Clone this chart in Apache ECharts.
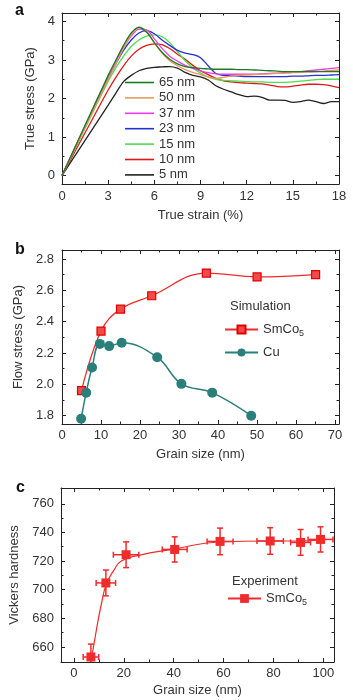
<!DOCTYPE html>
<html>
<head>
<meta charset="utf-8">
<script src="https://cdn.jsdelivr.net/npm/echarts@6/dist/echarts.min.js"></script>
<style>
  html, body { margin: 0; padding: 0; background: #fff; }
  #chart { width: 353px; height: 700px; }
</style>
</head>
<body>
<div id="chart"></div>
<script>
// ---- panel a: stress-strain curves ----
const aStrain = [0, 1, 2, 3, 3.5, 4, 4.5, 5, 5.5, 6, 6.5, 7, 7.5, 8, 8.5, 9, 9.5, 10, 10.5, 11, 11.5, 12, 12.5, 13, 13.5, 14, 14.5, 15, 15.5, 16, 16.5, 17, 17.5, 18];
const aNames = ["65 nm", "50 nm", "37 nm", "23 nm", "15 nm", "10 nm", "5 nm"];
const aColors = ["#1c7a22", "#e89a5c", "#e83ee8", "#2233d6", "#4fdc4f", "#e01818", "#222222"];
const a65 = [0, 0.87, 1.74, 2.6, 3.0, 3.38, 3.7, 3.85, 3.72, 3.45, 3.2, 3.02, 2.9, 2.83, 2.8, 2.78, 2.77, 2.76, 2.76, 2.76, 2.75, 2.75, 2.74, 2.73, 2.72, 2.71, 2.7, 2.7, 2.7, 2.7, 2.7, 2.7, 2.7, 2.7];
const a50 = [0, 0.83, 1.66, 2.5, 2.9, 3.3, 3.65, 3.84, 3.75, 3.45, 3.18, 2.98, 2.85, 2.75, 2.68, 2.62, 2.56, 2.52, 2.55, 2.58, 2.6, 2.61, 2.62, 2.63, 2.64, 2.65, 2.66, 2.67, 2.68, 2.69, 2.7, 2.71, 2.73, 2.74];
const a37 = [0, 0.86, 1.72, 2.56, 2.95, 3.33, 3.62, 3.8, 3.78, 3.55, 3.3, 3.1, 2.97, 2.86, 2.78, 2.72, 2.67, 2.64, 2.63, 2.63, 2.63, 2.63, 2.63, 2.64, 2.65, 2.66, 2.67, 2.68, 2.7, 2.72, 2.74, 2.76, 2.78, 2.8];
const a23 = [0, 0.85, 1.7, 2.52, 2.9, 3.25, 3.52, 3.7, 3.76, 3.68, 3.52, 3.38, 3.25, 3.18, 3.14, 3.06, 2.85, 2.65, 2.6, 2.59, 2.58, 2.57, 2.57, 2.57, 2.57, 2.57, 2.57, 2.58, 2.58, 2.59, 2.6, 2.6, 2.61, 2.62];
const a15 = [0, 0.82, 1.64, 2.44, 2.8, 3.1, 3.35, 3.52, 3.62, 3.65, 3.61, 3.45, 3.22, 2.98, 2.8, 2.66, 2.56, 2.5, 2.47, 2.46, 2.45, 2.44, 2.43, 2.43, 2.42, 2.42, 2.42, 2.43, 2.45, 2.47, 2.49, 2.5, 2.5, 2.5];
const a10 = [0, 0.74, 1.48, 2.22, 2.55, 2.85, 3.1, 3.28, 3.38, 3.42, 3.4, 3.3, 3.15, 3.02, 2.86, 2.72, 2.62, 2.52, 2.46, 2.43, 2.41, 2.4, 2.39, 2.38, 2.35, 2.31, 2.3, 2.32, 2.35, 2.37, 2.37, 2.36, 2.33, 2.28];
const a5 = [0, 0.61, 1.22, 1.83, 2.14, 2.44, 2.6, 2.72, 2.78, 2.81, 2.82, 2.83, 2.79, 2.68, 2.6, 2.56, 2.48, 2.33, 2.24, 2.17, 2.1, 2.05, 2.06, 2.03, 1.96, 1.96, 1.95, 1.9, 1.92, 1.96, 1.92, 1.87, 1.92, 1.92];
const aValues = [a65, a50, a37, a23, a15, a10, a5];
const aXTicks = [0, 3, 6, 9, 12, 15, 18];
const aYTicks = [0, 1, 2, 3, 4];

// ---- panel b: flow stress vs grain size (simulation) ----
const bSmX = [5, 10, 15, 23, 37, 50, 65];
const bSmY = [1.96, 2.34, 2.48, 2.565, 2.71, 2.685, 2.70];
const bCuX = [4.9, 6.2, 7.7, 9.7, 12.1, 15.3, 24.4, 30.6, 38.5, 48.5];
const bCuY = [1.78, 1.947, 2.107, 2.258, 2.244, 2.265, 2.173, 2.003, 1.947, 1.80];
const bXTicks = [0, 10, 20, 30, 40, 50, 60, 70];
const bYTicks = [1.8, 2.0, 2.2, 2.4, 2.6, 2.8];

// ---- panel c: Vickers hardness (experiment) ----
const cX = [6.8, 12.8, 20.9, 40.4, 58.6, 78.7, 90.9, 98.9];
const cY = [653, 704.7, 724.4, 728.1, 733.7, 734.0, 733.0, 735.1];
const cXErr = [3.1, 3.9, 5.1, 5.0, 5.2, 5.3, 4.0, 5.0];
const cYErr = [9, 9, 9, 8.8, 9.3, 9.3, 9, 8.8];
const cFitX = [7, 9, 11, 13, 16, 19, 26, 40, 58, 78, 90, 98];
const cFitY = [651, 672, 690, 704, 713.5, 720, 724, 728.3, 733.3, 734, 734, 734.5];
const cXTicks = [0, 20, 40, 60, 80, 100];
const cYTicks = [660, 680, 700, 720, 740, 760];

const FONT = "Liberation Sans, Arial, sans-serif";
const TXT = "#333";
const AX = "#222";
const RED = "#ef2b2b";
const TEAL = "#2a7f7b";

const zip = (xs, ys) => xs.map((x, i) => [x, ys[i]]);
const mids = t => t.slice(1).map((v, i) => (v + t[i]) / 2);

// one grid gets 4 axes per dimension: main (line, ticks, labels), minor ticks, mirror side, mirror minor
function axes(dim, grid, min, max, majors, fmt, name, nameGap, labelMargin) {
  const minors = mids(majors);
  const side = dim === "x" ? ["bottom", "top"] : ["left", "right"];
  const base = {
    type: "value", gridIndex: grid, min: min, max: max,
    splitLine: { show: false }, axisLabel: { show: false },
    axisTick: { show: false }, axisLine: { show: false, onZero: false }
  };
  const out = [];
  side.forEach((pos, i) => {
    const main = Object.assign({}, base, {
      position: pos,
      axisLine: { show: true, onZero: false, lineStyle: { color: AX, width: 1 } },
      axisTick: { show: true, inside: true, length: 4, customValues: majors, lineStyle: { color: AX } }
    });
    if (i === 0) {
      main.axisLabel = {
        show: true, customValues: majors, formatter: fmt, margin: labelMargin,
        color: TXT, fontSize: 13, fontFamily: FONT
      };
      main.name = name;
      main.nameLocation = "middle";
      main.nameGap = nameGap;
      main.nameTextStyle = { color: TXT, fontSize: 13, fontFamily: FONT };
    }
    out.push(main);
    out.push(Object.assign({}, base, {
      position: pos,
      axisTick: { show: true, inside: true, length: 2.5, customValues: minors, lineStyle: { color: AX } }
    }));
  });
  return out;
}

const xAxes = [].concat(
  axes("x", 0, 0, 18, aXTicks, v => String(v), "True strain (%)", 25, 6),
  axes("x", 1, 0, 71, bXTicks, v => String(v), "Grain size (nm)", 24, 5),
  axes("x", 2, -5.2, 104.3, cXTicks, v => String(v), "Grain size (nm)", 22, 5)
);
const yAxes = [].concat(
  axes("y", 0, -0.22, 4.22, aYTicks, v => String(v), "True stress (GPa)", 21, 7),
  axes("y", 1, 1.747, 2.857, bYTicks, v => v.toFixed(1), "Flow stress (GPa)", 29, 8),
  axes("y", 2, 649.5, 771, cYTicks, v => String(v), "Vickers hardness", 28, 7)
);

const series = [];
aNames.forEach((n, i) => {
  series.push({
    name: n, type: "line", xAxisIndex: 0, yAxisIndex: 0,
    data: zip(aStrain, aValues[i]), symbol: "none", smooth: 0.3,
    lineStyle: { color: aColors[i], width: 1.3 }, itemStyle: { color: aColors[i] },
    z: 10 - i
  });
});
series.push({
  name: "SmCo5 sim", type: "line", xAxisIndex: 4, yAxisIndex: 4,
  data: zip(bSmX, bSmY), smooth: 0.4, symbol: "rect", symbolSize: 8,
  lineStyle: { color: RED, width: 1.3 },
  itemStyle: { color: "#f24a4a", borderColor: "#e00000", borderWidth: 1.2 }
});
series.push({
  name: "Cu", type: "line", xAxisIndex: 4, yAxisIndex: 4,
  data: zip(bCuX, bCuY), smooth: 0.4, symbol: "circle", symbolSize: 10,
  lineStyle: { color: TEAL, width: 1.5 }, itemStyle: { color: TEAL }
});
series.push({
  name: "SmCo5 exp", type: "line", xAxisIndex: 8, yAxisIndex: 8,
  data: zip(cFitX, cFitY), smooth: 0.5, symbol: "rect", symbolSize: 9, showSymbol: false,
  lineStyle: { color: RED, width: 1.2 }, itemStyle: { color: RED }
});
series.push({
  name: "errors", type: "custom", xAxisIndex: 8, yAxisIndex: 8, clip: true,
  data: cX.map((x, i) => [x, cY[i], cXErr[i], cYErr[i]]),
  renderItem: function (params, api) {
    const x = api.value(0), y = api.value(1), ex = api.value(2), ey = api.value(3);
    const l = api.coord([x - ex, y]), r = api.coord([x + ex, y]);
    const t = api.coord([x, y + ey]), b = api.coord([x, y - ey]);
    const c = 3;
    const seg = (x1, y1, x2, y2) => ({ type: "line", shape: { x1, y1, x2, y2 }, style: { stroke: RED, lineWidth: 1.5 } });
    return {
      type: "group",
      children: [
        seg(l[0], l[1], r[0], r[1]), seg(t[0], t[1], b[0], b[1]),
        seg(l[0], l[1] - c, l[0], l[1] + c), seg(r[0], r[1] - c, r[0], r[1] + c),
        seg(t[0] - c, t[1], t[0] + c, t[1]), seg(b[0] - c, b[1], b[0] + c, b[1])
      ]
    };
  },
  z: 3
});
series.push({
  name: "points", type: "scatter", xAxisIndex: 8, yAxisIndex: 8,
  data: zip(cX, cY), symbol: "rect", symbolSize: 9, itemStyle: { color: RED, opacity: 1 }, z: 4
});

const subFmt = n => (n.indexOf("SmCo5") === 0 ? "SmCo{sub|5}" : n);
const legendText = {
  color: TXT, fontSize: 13, fontFamily: FONT,
  rich: { sub: { fontSize: 9, fontFamily: FONT, color: TXT, padding: [8, 0, 0, 0] } }
};

const option = {
  animation: false,
  backgroundColor: "#fff",
  grid: [
    { left: 62, top: 13, width: 277, height: 171 },
    { left: 62, top: 250, width: 277, height: 174 },
    { left: 61, top: 488, width: 273, height: 174 }
  ],
  xAxis: xAxes,
  yAxis: yAxes,
  legend: [
    {
      data: aNames, orient: "vertical", left: 125, top: 76, padding: 0,
      icon: "rect", itemWidth: 29, itemHeight: 1.6, itemGap: 2.4,
      textStyle: { color: TXT, fontSize: 13, fontFamily: FONT }
    },
    {
      data: ["SmCo5 sim", "Cu"], orient: "vertical", left: 224, top: 323, padding: 0,
      itemWidth: 33, itemHeight: 10, itemGap: 8, formatter: subFmt, textStyle: legendText
    },
    {
      data: ["SmCo5 exp"], orient: "vertical", left: 227, top: 592, padding: 0,
      itemWidth: 33, itemHeight: 11, formatter: subFmt, textStyle: legendText
    }
  ],
  graphic: [
    { type: "text", left: 15, top: 3, style: { text: "a", fill: "#111", font: "bold 16px " + FONT } },
    { type: "text", left: 15, top: 242, style: { text: "b", fill: "#111", font: "bold 16px " + FONT } },
    { type: "text", left: 16, top: 480, style: { text: "c", fill: "#111", font: "bold 16px " + FONT } },
    { type: "text", left: 230, top: 300, style: { text: "Simulation", fill: TXT, font: "13px " + FONT } },
    { type: "text", left: 232, top: 575, style: { text: "Experiment", fill: TXT, font: "13px " + FONT } }
  ],
  series: series
};

const chart = echarts.init(document.getElementById("chart"));
chart.setOption(option);
</script>
</body>
</html>
